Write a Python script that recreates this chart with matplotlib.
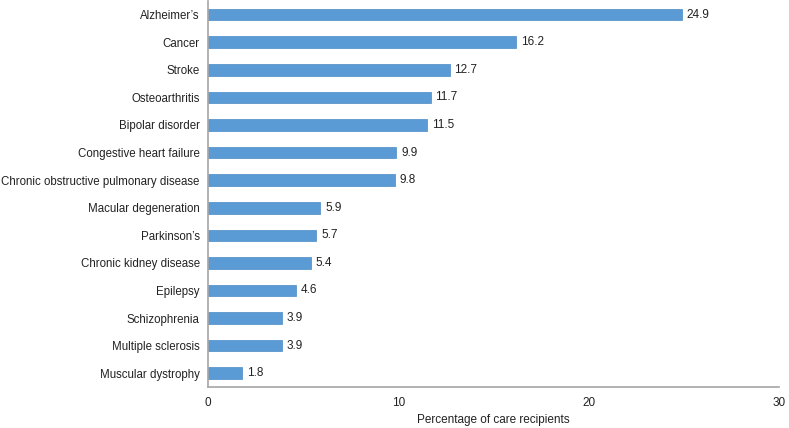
import matplotlib
matplotlib.use('Agg')
import matplotlib.pyplot as plt

plt.rcParams['font.family'] = ['Liberation Sans', 'DejaVu Sans']

categories = ["Alzheimer\u2019s", "Cancer", "Stroke", "Osteoarthritis", "Bipolar disorder",
              "Congestive heart failure", "Chronic obstructive pulmonary disease",
              "Macular degeneration", "Parkinson\u2019s", "Chronic kidney disease",
              "Epilepsy", "Schizophrenia", "Multiple sclerosis", "Muscular dystrophy"]
values = [24.9, 16.2, 12.7, 11.7, 11.5, 9.9, 9.8, 5.9, 5.7, 5.4, 4.6, 3.9, 3.9, 1.8]
xticks = [0, 10, 20, 30]

fig = plt.figure(figsize=(7.89, 4.28), dpi=100)
ax = fig.add_axes([0.2636, 0.0958, 0.7237, 0.9022])

ypos = list(range(len(categories)))
ax.barh(ypos, values, height=0.42, color='#5B9BD5', edgecolor='#4A8AC4', linewidth=0.5)
for y, v in zip(ypos, values):
    ax.text(v + 0.25, y, '%.1f' % v, va='center', ha='left', fontsize=8.5, color='#222222')

ax.set_yticks(ypos)
ax.set_yticklabels(categories, fontsize=8.3, color='#222222')
ax.set_ylim(len(categories) - 0.5, -0.5)
ax.set_xlim(0, 30)
ax.set_xticks(xticks)
ax.set_xticklabels([str(t) for t in xticks], fontsize=8.5, color='#222222')
ax.tick_params(axis='y', length=0, pad=6)
ax.tick_params(axis='x', length=0, pad=7)
ax.set_xlabel('Percentage of care recipients', fontsize=8.5, color='#222222', labelpad=4)

for s in ['top', 'right']:
    ax.spines[s].set_visible(False)
for s in ['left', 'bottom']:
    ax.spines[s].set_color('#A6A6A6')
    ax.spines[s].set_linewidth(1.2)

fig.savefig('out.png', dpi=100)
